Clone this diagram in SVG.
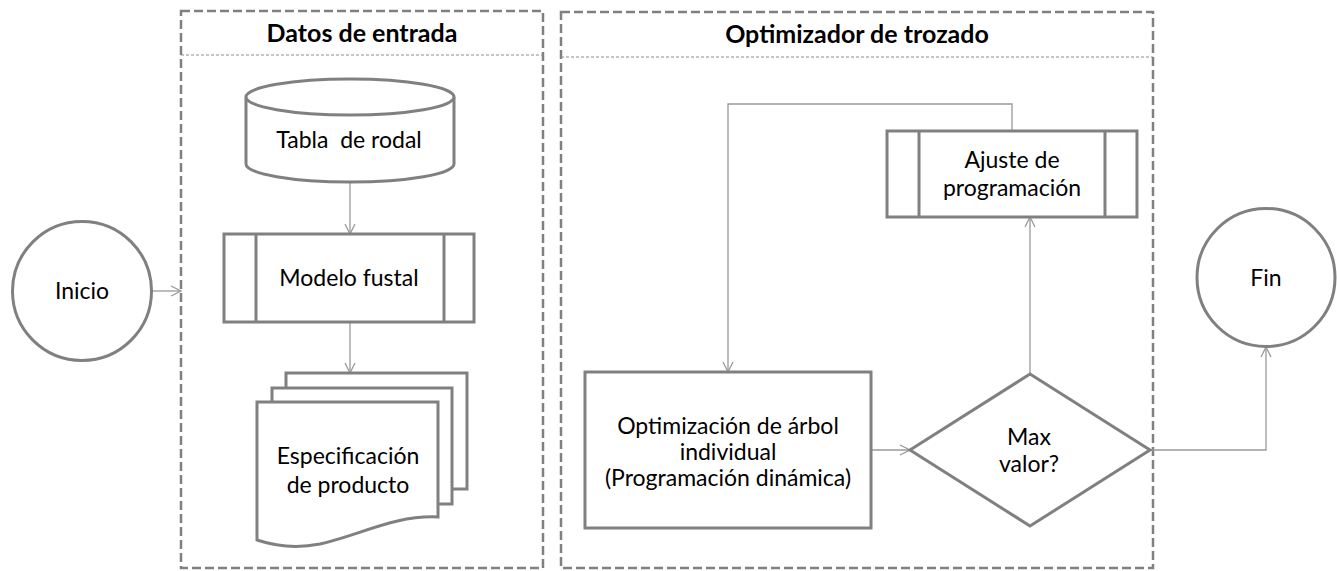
<svg xmlns="http://www.w3.org/2000/svg" width="1337" height="571" viewBox="0 0 1337 571">
<style>
.panel{fill:none;stroke:#808080;stroke-width:2.5;stroke-dasharray:9 4}
.sep{fill:none;stroke:#8c8c8c;stroke-width:1;stroke-dasharray:3 2}
.shape{fill:#fff;stroke:#808080;stroke-width:3}
.conn{fill:none;stroke:#999;stroke-width:1.3}
.t{font-family:Lato,"Liberation Sans",sans-serif;font-size:23px;fill:#000;text-anchor:middle}
.h{font-family:Lato,"Liberation Sans",sans-serif;font-size:25px;font-weight:bold;fill:#000;text-anchor:middle}
</style>
<defs>
<marker id="arr" markerUnits="userSpaceOnUse" markerWidth="12" markerHeight="12" viewBox="0 0 12 12" refX="11" refY="6" orient="auto">
<path d="M1,1 L11,6 L1,11" fill="none" stroke="#999" stroke-width="1.3"/>
</marker>
</defs>

<g id="panel-datos">
<rect class="panel" x="181" y="11" width="362" height="557"/>
<line class="sep" x1="181" y1="55" x2="543" y2="55"/>
<text class="h" x="362" y="42">Datos de entrada</text>
</g>

<g id="panel-optimizador">
<rect class="panel" x="561" y="12" width="592" height="556"/>
<line class="sep" x1="561" y1="57" x2="1153" y2="57"/>
<text class="h" x="857" y="43">Optimizador de trozado</text>
</g>

<g id="connectors">
<line class="conn" x1="152" y1="291" x2="181" y2="291" marker-end="url(#arr)"/>
<line class="conn" x1="350" y1="182" x2="350" y2="234" marker-end="url(#arr)"/>
<line class="conn" x1="350" y1="322" x2="350" y2="373" marker-end="url(#arr)"/>
<line class="conn" x1="871" y1="450" x2="910" y2="450" marker-end="url(#arr)"/>
<line class="conn" x1="1030" y1="374" x2="1030" y2="217" marker-end="url(#arr)"/>
<polyline class="conn" points="1012,131 1012,104 728,104 728,372" marker-end="url(#arr)"/>
<polyline class="conn" points="1150,450 1266,450 1266,347" marker-end="url(#arr)"/>
</g>

<g id="inicio">
<circle class="shape" cx="82" cy="291" r="69.5"/>
<text class="t" x="82" y="299">Inicio</text>
</g>

<g id="tabla-rodal">
<path class="shape" d="M246,97 A104,18 0 0 1 454,97 L454,164 A104,18 0 0 1 246,164 Z"/>
<path class="shape" d="M246,97 A104,18 0 0 0 454,97" fill="none"/>
<text class="t" x="349" y="148" xml:space="preserve">Tabla  de rodal</text>
</g>

<g id="modelo-fustal">
<rect class="shape" x="224" y="234" width="250" height="88"/>
<line class="shape" x1="256" y1="234" x2="256" y2="322"/>
<line class="shape" x1="444" y1="234" x2="444" y2="322"/>
<text class="t" x="349" y="286">Modelo fustal</text>
</g>

<g id="especificacion">
<rect class="shape" x="286" y="373" width="181" height="116"/>
<rect class="shape" x="272" y="388" width="180" height="116"/>
<path class="shape" d="M257,402 L438,402 L438,517 C395,515 360,535 320,544 C295,549 275,546 257,540 Z"/>
<text class="t" x="348" y="464">Especificación</text>
<text class="t" x="348" y="493">de producto</text>
</g>

<g id="optimizacion">
<rect class="shape" x="585" y="372" width="286" height="156"/>
<text class="t" x="728" y="434">Optimización de árbol</text>
<text class="t" x="728" y="460">individual</text>
<text class="t" x="728" y="486">(Programación dinámica)</text>
</g>

<g id="max-valor">
<polygon class="shape" points="1030,374 1150,450 1030,526 910,450"/>
<text class="t" x="1029" y="445">Max</text>
<text class="t" x="1029" y="472">valor?</text>
</g>

<g id="ajuste">
<rect class="shape" x="887" y="131" width="250" height="86"/>
<line class="shape" x1="919" y1="131" x2="919" y2="217"/>
<line class="shape" x1="1105" y1="131" x2="1105" y2="217"/>
<text class="t" x="1012" y="168">Ajuste de</text>
<text class="t" x="1012" y="196">programación</text>
</g>

<g id="fin">
<circle class="shape" cx="1266" cy="277.5" r="69"/>
<text class="t" x="1266" y="286">Fin</text>
</g>
</svg>
